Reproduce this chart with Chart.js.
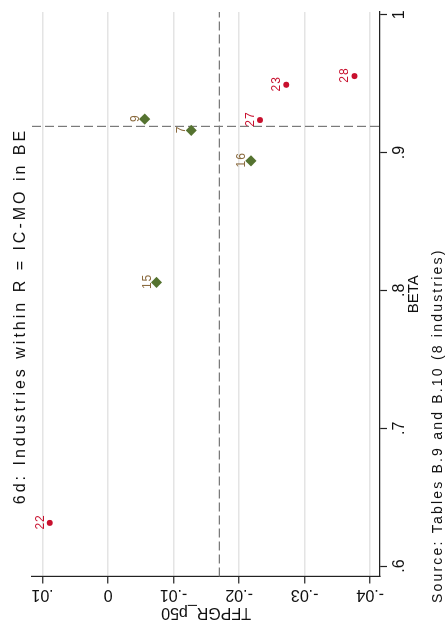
<!DOCTYPE html>
<html>
<head>
<meta charset="utf-8">
<script src="https://cdn.jsdelivr.net/npm/chart.js@4.4.1/dist/chart.umd.min.js"></script>
<style>
  html, body { margin: 0; padding: 0; background: #fff; width: 448px; height: 634px; overflow: hidden; }
  /* the Stata graph is drawn landscape and turned a quarter turn */
  #wrap {
    position: absolute; left: 0; top: 0; width: 634px; height: 448px;
    transform-origin: 0 0;
    transform: translate(0, 634px) rotate(-90deg);
  }
</style>
</head>
<body>
<div id="wrap"><canvas id="chart" width="634" height="448"></canvas></div>
<script>
const FONT = "'Liberation Sans', Arial, Helvetica, sans-serif";

// industries in IC-MO
const icLabels = ["9", "7", "16", "15"];
const icBeta = [0.9243, 0.9161, 0.894, 0.8058];
const icTfpgr = [-0.0056, -0.0127, -0.0218, -0.0074];

// other industries
const otherLabels = ["27", "23", "28", "22"];
const otherBeta = [0.9236, 0.9492, 0.9555, 0.6313];
const otherTfpgr = [-0.0232, -0.0272, -0.0376, 0.0089];

const betaTicks = [0.6, 0.7, 0.8, 0.9, 1];
const betaTickLabels = [".6", ".7", ".8", ".9", "1"];
const tfpgrTicks = [0.01, 0, -0.01, -0.02, -0.03, -0.04];
const tfpgrTickLabels = [".01", "0", "-.01", "-.02", "-.03", "-.04"];

const betaRef = 0.919;
const tfpgrRef = -0.017;

const toPoints = (xs, ys) => xs.map((x, i) => ({ x, y: ys[i] }));

const refLines = {
  id: "refLines",
  beforeDatasetsDraw(chart) {
    const { ctx, chartArea, scales } = chart;
    const px = scales.x.getPixelForValue(betaRef);
    const py = scales.y.getPixelForValue(tfpgrRef);
    ctx.save();
    ctx.strokeStyle = "#7a7a7a";
    ctx.lineWidth = 1.2;
    ctx.setLineDash([9, 4]);
    ctx.beginPath();
    ctx.moveTo(px, chartArea.top);
    ctx.lineTo(px, chartArea.bottom);
    ctx.moveTo(chartArea.left, py);
    ctx.lineTo(chartArea.right, py);
    ctx.stroke();
    ctx.restore();
  }
};

const pointLabels = {
  id: "pointLabels",
  afterDatasetsDraw(chart) {
    const ctx = chart.ctx;
    chart.data.datasets.forEach((ds, i) => {
      const meta = chart.getDatasetMeta(i);
      ctx.save();
      ctx.font = "12px " + FONT;
      ctx.letterSpacing = "1px";
      ctx.fillStyle = ds.labelColor;
      ctx.textAlign = "center";
      meta.data.forEach((pt, j) => {
        ctx.fillText(ds.names[j], pt.x + 1, pt.y - 6);
      });
      ctx.restore();
    });
  }
};

const extraText = {
  id: "extraText",
  afterDraw(chart) {
    const { ctx, chartArea, scales } = chart;
    ctx.save();
    ctx.fillStyle = "#111";
    // vertical tick labels of TFPGR axis
    ctx.font = "16px " + FONT;
    ctx.textAlign = "center";
    scales.y.ticks.forEach((t, k) => {
      const py = scales.y.getPixelForValue(t.value);
      ctx.save();
      ctx.translate(44, py);
      ctx.rotate(-Math.PI / 2);
      ctx.fillText(tfpgrTickLabels[k], 0, 0);
      ctx.restore();
    });
    // axis title
    ctx.save();
    ctx.translate(26, (chartArea.top + chartArea.bottom) / 2);
    ctx.rotate(-Math.PI / 2);
    ctx.fillText("TFPGR_p50", 0, 0);
    ctx.restore();
    // graph title
    ctx.font = "16px " + FONT;
    ctx.letterSpacing = "3px";
    ctx.fillText("6d: Industries within R = IC-MO in BE", 318, 25);
    // note
    ctx.font = "14px " + FONT;
    ctx.letterSpacing = "2.2px";
    ctx.textAlign = "left";
    ctx.fillText("Source: Tables B.9 and B.10 (8 industries)", 31, 442);
    ctx.restore();
  }
};

new Chart(document.getElementById("chart"), {
  type: "scatter",
  data: {
    datasets: [
      {
        data: toPoints(icBeta, icTfpgr),
        names: icLabels,
        labelColor: "#8a6a3e",
        pointStyle: "rectRot",
        pointRadius: 5.6,
        backgroundColor: "#557330",
        borderWidth: 0
      },
      {
        data: toPoints(otherBeta, otherTfpgr),
        names: otherLabels,
        labelColor: "#c8102e",
        pointStyle: "circle",
        pointRadius: 3,
        backgroundColor: "#c8102e",
        borderWidth: 0
      }
    ]
  },
  options: {
    responsive: false,
    animation: false,
    devicePixelRatio: 1,
    layout: { padding: { top: 32, right: 12, left: 0, bottom: 0 } },
    plugins: { legend: { display: false }, tooltip: { enabled: false } },
    scales: {
      x: {
        type: "linear",
        min: 0.5924,
        max: 1.002,
        afterBuildTicks: (s) => { s.ticks = betaTicks.map((v) => ({ value: v })); },
        afterFit: (s) => { s.height = 68; },
        ticks: {
          color: "#111",
          font: { family: FONT, size: 16 },
          padding: 3,
          maxRotation: 0,
          callback: (v, i) => betaTickLabels[i]
        },
        grid: { color: "rgba(0,0,0,0)", tickColor: "#222", tickLength: 7, tickWidth: 1.2 },
        border: { color: "#222", width: 1.2 },
        title: { display: true, text: "BETA", color: "#111", font: { family: FONT, size: 15 }, padding: { top: 0, bottom: 25 } }
      },
      y: {
        type: "linear",
        min: -0.0415,
        max: 0.0116,
        afterBuildTicks: (s) => { s.ticks = tfpgrTicks.map((v) => ({ value: v })); },
        afterFit: (s) => { s.width = 57.5; },
        ticks: { display: false },
        grid: { color: "#e4e4e4", lineWidth: 1.5, tickColor: "#222", tickLength: 7, tickWidth: 1.2 },
        border: { color: "#222", width: 1.2 }
      }
    }
  },
  plugins: [refLines, pointLabels, extraText]
});
</script>
</body>
</html>
